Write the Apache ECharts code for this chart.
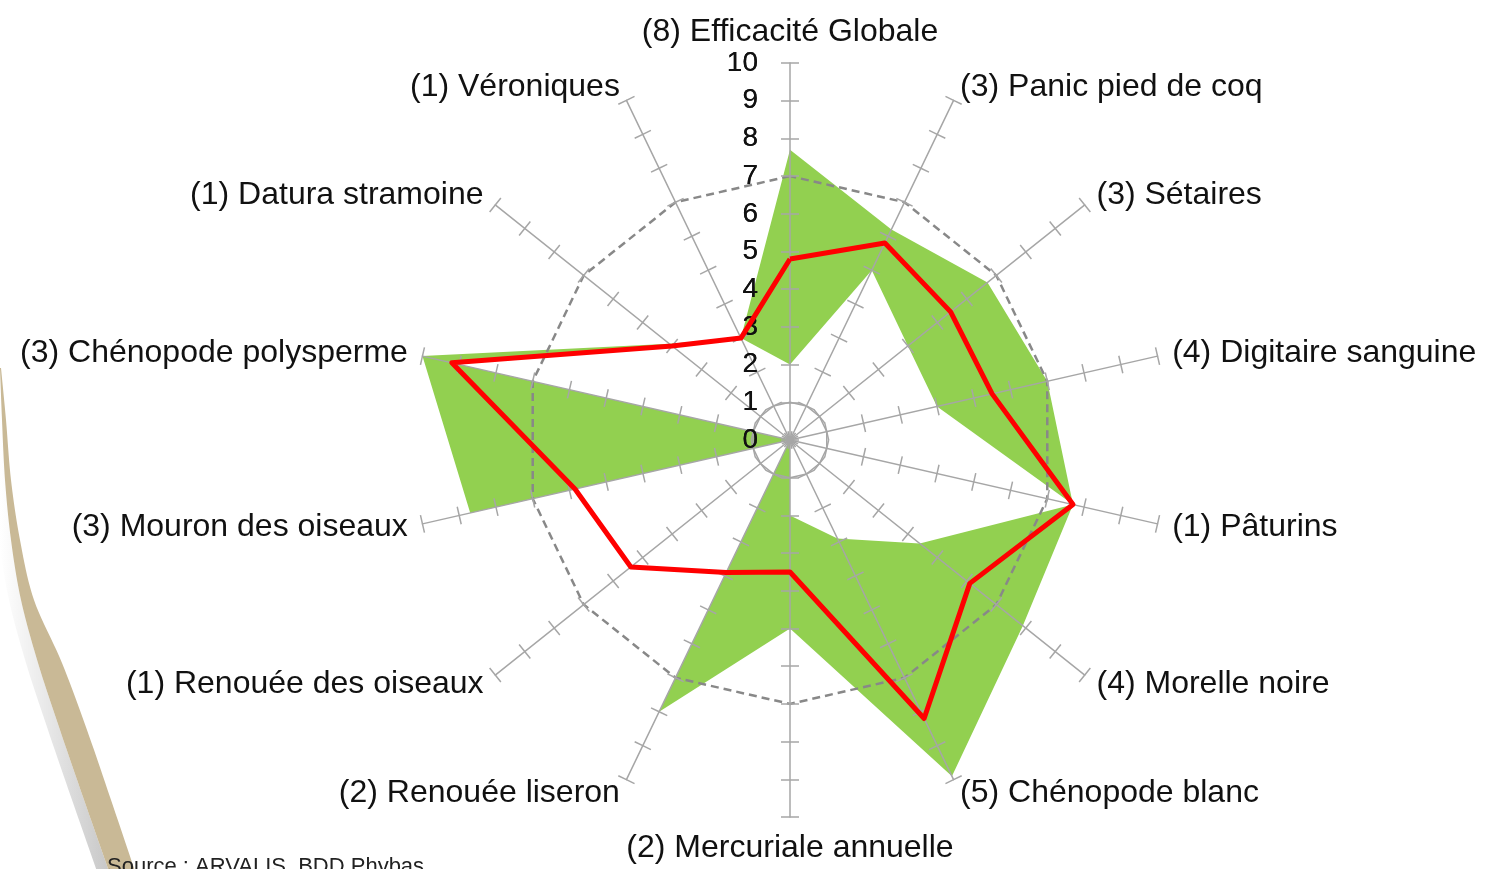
<!DOCTYPE html>
<html>
<head>
<meta charset="utf-8">
<script src="https://cdn.jsdelivr.net/npm/echarts@6/dist/echarts.min.js"></script>
<style>
html, body { margin: 0; padding: 0; background: #fff; }
#chart { width: 1485px; height: 869px; }
</style>
</head>
<body>
<div id="chart"></div>
<script>
// axes, clockwise from the top
const weeds = ['(8) Efficacité Globale', '(3) Panic pied de coq', '(3) Sétaires', '(4) Digitaire sanguine',
    '(1) Pâturins', '(4) Morelle noire', '(5) Chénopode blanc', '(2) Mercuriale annuelle',
    '(2) Renouée liseron', '(1) Renouée des oiseaux', '(3) Mouron des oiseaux',
    '(3) Chénopode polysperme', '(1) Datura stramoine', '(1) Véroniques'];
// green band = between max and min, red line = mean
const maxValues = [7.7, 6.2, 6.7, 7.0, 7.7, 7.9, 9.9, 5.0, 8.0, 0, 8.7, 10, 4.1, 3.0];
const minValues = [2.0, 5.0, 4.0, 4.0, 7.7, 4.4, 2.9, 2.0, 0, 0, 0, 9.3, 4.0, 3.0];
const meanValues = [4.8, 5.8, 5.45, 5.5, 7.7, 6.1, 8.2, 3.5, 3.9, 5.4, 5.85, 9.2, 4.0, 3.0];
const scaleMin = 0;
const scaleMax = 10;
const sourceText = 'Source : ARVALIS, BDD Phybas';

const font = 'Liberation Sans, Arial, sans-serif';

// echarts lays radar indicators counter-clockwise, so reverse (keep the first at top)
const order = [0].concat(weeds.map((w, i) => i).slice(1).reverse());
const pick = arr => order.map(i => arr[i]);

const indicators = order.map((i, n) => {
    const ind = { name: weeds[i], min: scaleMin, max: scaleMax };
    if (n === 0) {
        ind.axisLabel = {
            show: true,
            color: '#111',
            fontSize: 28,
            fontFamily: font,
            margin: 32
        };
    }
    return ind;
});

// only ring 7 (dashed) and ring 1 (solid) are drawn
const dashedRing = [];
const solidRing = [];
for (let i = 0; i <= 10; i++) {
    dashedRing.push(i === 7 ? '#888888' : 'rgba(0,0,0,0)');
    solidRing.push(i === 1 ? '#a6a6a6' : 'rgba(0,0,0,0)');
}

const radarBase = {
    center: [790, 440],
    radius: 377,
    startAngle: 90,
    shape: 'polygon',
    splitNumber: 10,
    indicator: indicators,
    splitArea: { show: false },
    z: 3
};

// decorative curl on the left of the slide
function smoothLine(pts) {
    // catmull-rom through the points
    const out = [];
    for (let i = 0; i < pts.length - 1; i++) {
        const p0 = pts[Math.max(0, i - 1)], p1 = pts[i], p2 = pts[i + 1], p3 = pts[Math.min(pts.length - 1, i + 2)];
        for (let s = 0; s < 10; s++) {
            const t = s / 10, t2 = t * t, t3 = t2 * t;
            const f = k => 0.5 * ((2 * p1[k]) + (-p0[k] + p2[k]) * t +
                (2 * p0[k] - 5 * p1[k] + 4 * p2[k] - p3[k]) * t2 +
                (-p0[k] + 3 * p1[k] - 3 * p2[k] + p3[k]) * t3);
            out.push([f(0), f(1)]);
        }
    }
    out.push(pts[pts.length - 1]);
    return out;
}
function band(leftPts, rightPts) {
    return leftPts.concat(rightPts.slice().reverse());
}
const curlLeft = smoothLine([[0, 368], [2, 420], [5, 480], [11, 540], [21, 600], [38, 663], [60, 730], [83, 797], [112, 880]]);
const curlRight = smoothLine([[1, 368], [6, 420], [11, 480], [20, 540], [34, 600], [62, 663], [87, 730], [110, 797], [138, 880]]);
const shadowLeft = curlLeft.map(p => [Math.max(0, p[0] - 12), p[1]]);

const chart = echarts.init(document.getElementById('chart'));
const options = {
    backgroundColor: '#fff',
    animation: false,
    radar: [
        Object.assign({}, radarBase, {
            nameGap: 15,
            axisName: { color: '#111', fontSize: 32, fontFamily: font },
            axisLine: { lineStyle: { color: '#a6a6a6', width: 1.5 } },
            axisTick: { show: true, length: 9, lineStyle: { color: '#a6a6a6', width: 1.5 } },
            axisLabel: { show: false },
            splitLine: { show: true, lineStyle: { color: dashedRing, width: 2.5, type: [8, 5] } }
        }),
        Object.assign({}, radarBase, {
            axisName: { show: false },
            axisLine: { show: false },
            axisTick: { show: true, length: -9, lineStyle: { color: '#a6a6a6', width: 1.5 } },
            axisLabel: { show: false },
            splitLine: { show: true, lineStyle: { color: solidRing, width: 1.5 } }
        })
    ],
    graphic: [
        {
            type: 'polygon',
            shape: { points: band(shadowLeft, curlLeft) },
            style: {
                fill: new echarts.graphic.LinearGradient(0, 0, 1, 0, [
                    { offset: 0, color: 'rgba(150,150,150,0)' },
                    { offset: 1, color: 'rgba(140,140,140,0.5)' }
                ])
            },
            silent: true
        },
        {
            type: 'polygon',
            shape: { points: band(curlLeft, curlRight) },
            style: { fill: '#c9b996' },
            silent: true
        },
        {
            type: 'text',
            left: 107,
            top: 856,
            style: { text: sourceText, fill: '#222', fontSize: 22, fontFamily: font },
            silent: true
        }
    ],
    series: [
        {
            name: 'Max',
            type: 'radar',
            radarIndex: 0,
            z: 1,
            symbol: 'none',
            lineStyle: { width: 0 },
            areaStyle: { color: '#92d050', opacity: 1 },
            data: [{ value: pick(maxValues), name: 'Max' }]
        },
        {
            name: 'Min',
            type: 'radar',
            radarIndex: 0,
            z: 1,
            symbol: 'none',
            lineStyle: { width: 0 },
            areaStyle: { color: '#ffffff', opacity: 1 },
            data: [{ value: pick(minValues), name: 'Min' }]
        },
        {
            name: 'Moyenne',
            type: 'radar',
            radarIndex: 0,
            z: 5,
            symbol: 'none',
            lineStyle: { color: '#ff0000', width: 5 },
            data: [{ value: pick(meanValues), name: 'Moyenne' }]
        }
    ]
};

chart.setOption(options);
</script>
</body>
</html>
